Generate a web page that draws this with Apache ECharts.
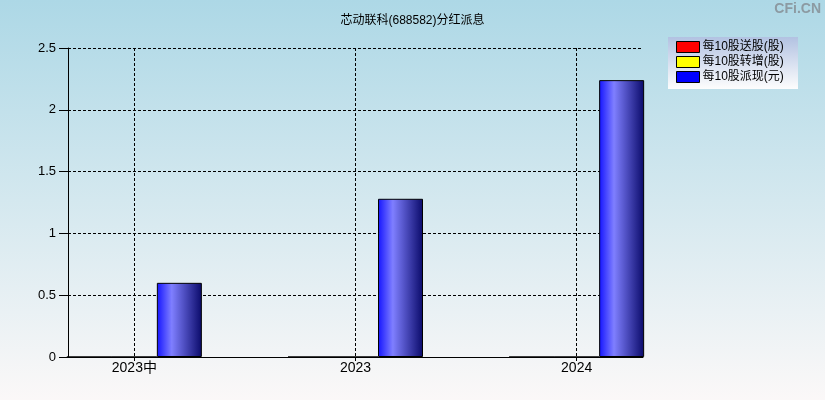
<!DOCTYPE html>
<html><head><meta charset="utf-8">
<script src="https://cdn.jsdelivr.net/npm/echarts@6/dist/echarts.min.js"></script>
<style>html,body{margin:0;padding:0;background:#fff;} #c{width:825px;height:400px;}</style>
</head><body><div id="c"></div>
<script>
// ---- data ----
const categories = ['2023中', '2023', '2024'];
const songGu = [0, 0, 0];          // 每10股送股(股)
const zhuanZeng = [0, 0, 0];       // 每10股转增(股)
const paiXian = [0.6, 1.28, 2.24]; // 每10股派现(元)
const seriesNames = ['每10股送股(股)', '每10股转增(股)', '每10股派现(元)'];
const yTickLabels = ['0', '0.5', '1', '1.5', '2', '2.5'];
const titleText = '芯动联科(688582)分红派息';
const watermark = 'CFi.CN';

const FONT = '"Liberation Sans","Noto Sans CJK SC",sans-serif';
const idx = categories.map((c, i) => i);
const toPairs = arr => idx.map(i => [i, arr[i]]);

const chart = echarts.init(document.getElementById('c'), null, {renderer: 'canvas'});
const dash = {color: '#000', type: [3, 2], width: 1};
const blueGrad = new echarts.graphic.LinearGradient(0, 0, 1, 0, [
  {offset: 0, color: '#1414ff'},
  {offset: 0.33, color: '#7f7fff'},
  {offset: 1, color: '#0a0a6a'}
]);

chart.setOption({
  animation: false,
  backgroundColor: new echarts.graphic.LinearGradient(0, 0, 0, 1, [
    {offset: 0, color: '#add8e6'},
    {offset: 1, color: '#fbf8f8'}
  ]),
  textStyle: {fontFamily: FONT},
  title: {
    text: titleText, left: 'center', top: 10,
    textStyle: {fontSize: 12, fontWeight: 'normal', color: '#000', fontFamily: FONT}
  },
  graphic: [
    {type: 'text', right: 4, top: 2, style: {text: watermark, fill: '#8c9aa2', font: 'bold 14px ' + FONT}},
    {type: 'rect', shape: {x: 668, y: 37, width: 130, height: 52}, z: 1,
      style: {fill: new echarts.graphic.LinearGradient(0, 0, 0, 1, [
        {offset: 0, color: '#b2c2e2'}, {offset: 1, color: '#fdfdfd'}])}}
  ],
  legend: {
    orient: 'vertical', left: 676, top: 41, padding: 0,
    itemWidth: 23, itemHeight: 11, itemGap: 3, selectedMode: false, z: 5,
    textStyle: {fontSize: 12, color: '#000', fontFamily: FONT, padding: [0, 0, 0, -2]},
    itemStyle: {borderColor: '#000', borderWidth: 1},
    data: [
      {name: seriesNames[0], icon: 'rect', itemStyle: {color: '#ff0000'}},
      {name: seriesNames[1], icon: 'rect', itemStyle: {color: '#ffff00'}},
      {name: seriesNames[2], icon: 'rect', itemStyle: {color: '#0000ff'}}
    ]
  },
  grid: {left: 68, right: 182, top: 48, bottom: 43},
  xAxis: {
    type: 'value', min: -0.3, max: 2.3,
    axisLine: {show: true, onZero: false, lineStyle: {color: '#000', width: 1}},
    axisTick: {show: true, length: 4, customValues: idx, lineStyle: {color: '#000'}},
    axisLabel: {customValues: idx, formatter: v => categories[Math.round(v)], color: '#000', fontSize: 14, margin: 4, fontFamily: FONT},
    splitLine: {show: true, lineStyle: dash}
  },
  yAxis: {
    type: 'value', min: 0, max: 2.5, interval: 0.5,
    axisLine: {show: true, onZero: false, lineStyle: {color: '#000', width: 1}},
    axisTick: {show: true, length: 9, lineStyle: {color: '#000'}},
    axisLabel: {formatter: (v) => yTickLabels[Math.round(v / 0.5)], color: '#000', fontSize: 13, margin: 12, fontFamily: FONT},
    splitLine: {show: true, lineStyle: dash}
  },
  series: [
    {name: seriesNames[0], type: 'bar', data: toPairs(songGu), barWidth: 45, barGap: '0%',
      itemStyle: {color: '#ff0000', borderColor: '#000', borderWidth: 1}},
    {name: seriesNames[1], type: 'bar', data: toPairs(zhuanZeng), barWidth: 45, barGap: '0%',
      itemStyle: {color: '#ffff00', borderColor: '#000', borderWidth: 1}},
    {name: seriesNames[2], type: 'bar', data: toPairs(paiXian), barWidth: 45, barGap: '0%',
      itemStyle: {color: blueGrad, borderColor: '#000', borderWidth: 1}}
  ]
});
</script></body></html>
